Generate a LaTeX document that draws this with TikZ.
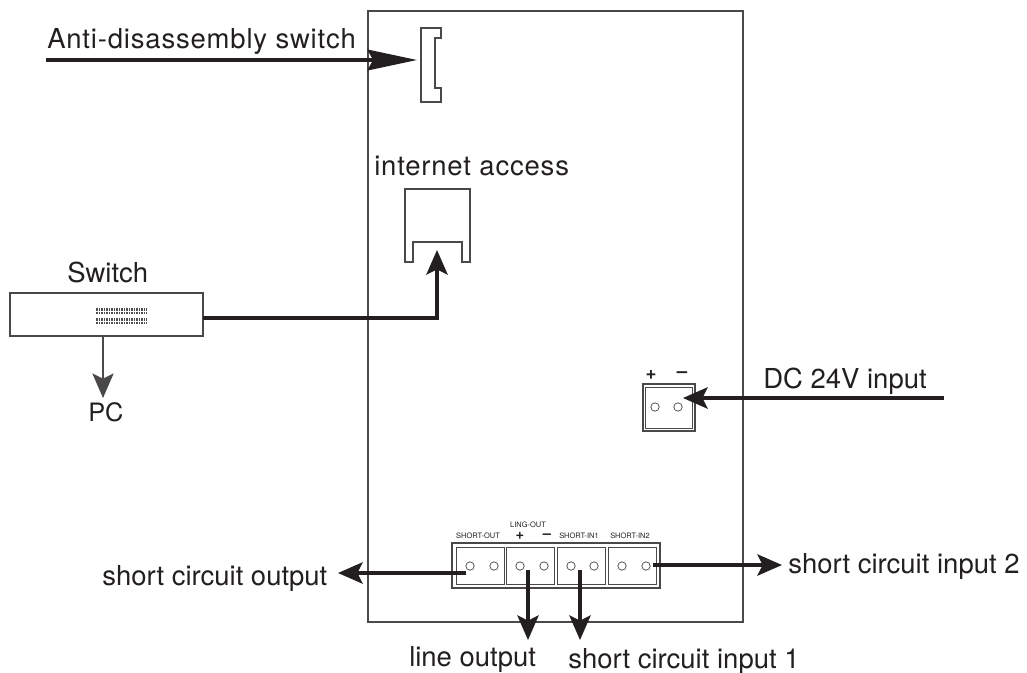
\documentclass[tikz,border=0pt]{standalone}
\usepackage{fontspec}
\setmainfont{TeX Gyre Heros}
\newfontfamily\widefont[LetterSpace=3]{TeX Gyre Heros}
\usetikzlibrary{arrows.meta}
\definecolor{ink}{HTML}{231F20}
\definecolor{edge}{HTML}{4A4849}
\tikzset{
  x=0.75pt,y=-0.75pt,
  outline/.style={draw=edge,line width=0.8pt,fill=white},
  pin/.style={circle,draw=edge,line width=0.55pt,minimum size=6.3pt,inner sep=0pt},
  dart/.style={-{Stealth[length=18.5pt,width=16pt,inset=4pt]}},
  longdart/.style={-{Stealth[length=37pt,width=15.5pt,inset=4pt]}},
  fatarrow/.style={draw=ink,dart,line width=2.5pt},
  fatlong/.style={draw=ink,longdart,line width=2.5pt},
  slimarrow/.style={draw=edge,dart,line width=0.9pt},
  lab/.style={font=\fontsize{20.6pt}{24pt}\selectfont,text=ink,inner sep=0pt,anchor=base west},
  widelab/.style={font=\widefont\fontsize{20.6pt}{24pt}\selectfont,text=ink,inner sep=0pt,anchor=base west},
  tinylab/.style={font=\fontsize{5.6pt}{6pt}\selectfont,text=ink,inner sep=0pt},
  bigsign/.style={font=\bfseries\fontsize{14pt}{14pt}\selectfont,text=ink,inner sep=0pt},
  smallsign/.style={font=\bfseries\fontsize{11pt}{11pt}\selectfont,text=ink,inner sep=0pt},
  bay/.style={draw=edge,line width=0.7pt,minimum width=36pt,minimum height=27.75pt,inner sep=0pt}
}
\begin{document}
\begin{tikzpicture}
\useasboundingbox (0,0) rectangle (1027,672);
\fill[white] (0,0) rectangle (1027,672);
% enclosure
\node[draw=edge,line width=0.85pt,minimum width=281.25pt,minimum height=458.25pt,inner sep=0pt] (board) at (555.5,316.5) {};
% bracket
\draw[outline] (421,28) -- (441,28) -- (441,38) -- (435,38) -- (435,88) -- (441,88) -- (441,102) -- (421,102) -- cycle;
\coordinate (bracket) at (417,60);
% internet port
\draw[outline] (405,262) -- (405,189) -- (470,189) -- (470,262) -- (462,262) -- (462,242) -- (413,242) -- (413,262) -- cycle;
\coordinate (port) at (437,250);
% switch
\node[draw=edge,line width=0.85pt,minimum width=144.75pt,minimum height=32.25pt,inner sep=0pt] (switch) at (106.5,314.5) {};
\fill[ink!80] (96,307.5) rectangle (147,314);
\fill[ink!80] (96,317.5) rectangle (147,324);
\foreach \x in {98,100.5,...,146}{\draw[white,line width=0.25pt] (\x,307.5) -- (\x,314) (\x,317.5) -- (\x,324);}
\draw[white,line width=0.25pt] (96,310.7) -- (147,310.7) (96,320.7) -- (147,320.7);
\coordinate (switchR) at (203,318);
\coordinate (switchB) at (103,336);
\coordinate (pctip) at (103,398);
\node[lab] (switchlab) at (67,282) {Switch};
\node[lab,font=\fontsize{19pt}{22pt}\selectfont] (pclab) at (88,421) {PC};
\draw[slimarrow] (switchB) -- (pctip);
\draw[fatarrow] (switchR) -| (port);
% DC connector
\node[draw=edge,line width=0.85pt,minimum width=39pt,minimum height=35.25pt,inner sep=0pt] (dc) at (669,407.5) {};
\node[draw=edge,line width=0.5pt,minimum width=35.5pt,minimum height=31pt,inner sep=0pt] (dcin) at (669,407.5) {};
\node[pin] (dc1) at (655,407) {};
\node[pin] (dc2) at (678,407) {};
\node[bigsign] (plus) at (651,375) {+};
\node[bigsign] (minus) at (682,375) {–};
\coordinate (dcin0) at (944,398);
\coordinate (dctip) at (683,398);
\draw[fatarrow] (dcin0) -- (dctip);
\node[lab] (dclab) at (763,388) {DC 24V input};
% terminal block
\node[draw=edge,line width=0.85pt,minimum width=156pt,minimum height=33.75pt,inner sep=0pt] (block) at (556,565.5) {};
\node[bay] (b1) at (480,565.5) {};
\node[bay] (b2) at (530.5,565.5) {};
\node[bay] (b3) at (581,565.5) {};
\node[bay] (b4) at (632,565.5) {};
\foreach \n/\x in {a/470,b/494,c/520,d/544,e/571,f/594,g/622,h/646}{\node[pin] (p\n) at (\x,566) {};}
\node[tinylab] (t1) at (478,536) {SHORT-OUT};
\node[tinylab] (t2) at (528,525) {LING-OUT};
\node[tinylab] (t3) at (579,536) {SHORT-IN1};
\node[tinylab] (t4) at (630,536) {SHORT-IN2};
\node[smallsign] (lp) at (520,536) {+};
\node[smallsign] (lm) at (547,536) {–};
\coordinate (o1) at (466,573);
\coordinate (o1t) at (338,573);
\coordinate (o2) at (653,565);
\coordinate (o2t) at (782,565);
\coordinate (o3) at (528,570);
\coordinate (o3t) at (528,640);
\coordinate (o4) at (580,570);
\coordinate (o4t) at (580,640);
\draw[fatarrow] (o1) -- (o1t);
\draw[fatarrow] (o2) -- (o2t);
\draw[fatarrow] (o3) -- (o3t);
\draw[fatarrow] (o4) -- (o4t);
\node[lab] (l1) at (102,585) {short circuit output};
\node[lab] (l2) at (788,573) {short circuit input 2};
\node[lab] (l3) at (409,666) {line output};
\node[lab] (l4) at (568,668) {short circuit input 1};
\node[widelab] (l5) at (47,48) {Anti-disassembly switch};
\node[widelab] (l6) at (374,175) {internet access};
\coordinate (anti) at (46,60);
\draw[fatlong] (anti) -- (bracket);
\end{tikzpicture}
\end{document}
